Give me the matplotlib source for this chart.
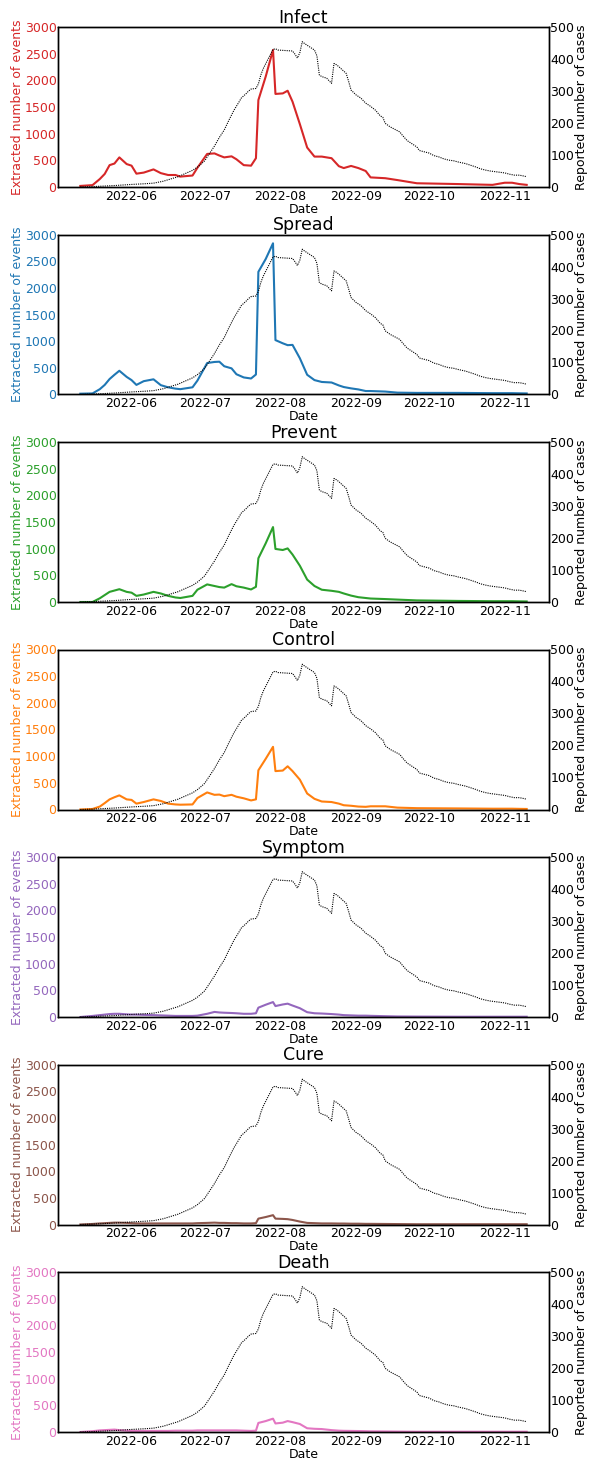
import matplotlib
matplotlib.use("Agg")
import matplotlib.pyplot as plt
import matplotlib.dates as mdates
import pandas as pd

# ---------------- data ----------------
case_dates = ["2022-05-11", "2022-05-15", "2022-05-21", "2022-05-26", "2022-06-01", "2022-06-06",
              "2022-06-10", "2022-06-14", "2022-06-17", "2022-06-20", "2022-06-23", "2022-06-26",
              "2022-06-28", "2022-06-30", "2022-07-01", "2022-07-03", "2022-07-05", "2022-07-07",
              "2022-07-09", "2022-07-11", "2022-07-13", "2022-07-15", "2022-07-16", "2022-07-18",
              "2022-07-19", "2022-07-20", "2022-07-22", "2022-07-23", "2022-07-24", "2022-07-25",
              "2022-07-27", "2022-07-28", "2022-07-29", "2022-07-30", "2022-07-31", "2022-08-02",
              "2022-08-04", "2022-08-06", "2022-08-07", "2022-08-08", "2022-08-09", "2022-08-10",
              "2022-08-11", "2022-08-13", "2022-08-15", "2022-08-16", "2022-08-17", "2022-08-18",
              "2022-08-20", "2022-08-21", "2022-08-22", "2022-08-23", "2022-08-24", "2022-08-25",
              "2022-08-27", "2022-08-28", "2022-08-29", "2022-08-30", "2022-09-01", "2022-09-03",
              "2022-09-05", "2022-09-07", "2022-09-09", "2022-09-11", "2022-09-12", "2022-09-13",
              "2022-09-15", "2022-09-17", "2022-09-19", "2022-09-20", "2022-09-22", "2022-09-24",
              "2022-09-26", "2022-09-27", "2022-09-29", "2022-10-01", "2022-10-03", "2022-10-05",
              "2022-10-07", "2022-10-09", "2022-10-11", "2022-10-13", "2022-10-16", "2022-10-18",
              "2022-10-20", "2022-10-22", "2022-10-24", "2022-10-26", "2022-10-28", "2022-10-30",
              "2022-11-01", "2022-11-03", "2022-11-05", "2022-11-07", "2022-11-09", "2022-11-10"]
reported_cases = [0, 1, 3, 5, 8, 10,
                  12, 18, 25, 32, 42, 52,
                  62, 75, 82, 105, 128, 155,
                  178, 210, 240, 265, 278, 292,
                  300, 306, 308, 322, 350, 370,
                  400, 415, 430, 432, 428, 427,
                  426, 425, 415, 403, 420, 454,
                  448, 438, 428, 410, 350, 345,
                  340, 332, 324, 386, 382, 376,
                  362, 355, 330, 303, 288, 278,
                  262, 252, 240, 222, 218, 199,
                  188, 180, 172, 162, 145, 135,
                  125, 114, 110, 106, 98, 94,
                  88, 84, 82, 78, 73, 68,
                  63, 57, 53, 50, 48, 46,
                  44, 40, 37, 37, 34, 32]

event_dates = ["2022-05-11", "2022-05-16", "2022-05-19", "2022-05-21", "2022-05-23", "2022-05-25",
               "2022-05-27", "2022-05-30", "2022-06-01", "2022-06-03", "2022-06-06", "2022-06-10",
               "2022-06-13", "2022-06-16", "2022-06-19", "2022-06-21", "2022-06-26", "2022-06-28",
               "2022-07-02", "2022-07-05", "2022-07-07", "2022-07-09", "2022-07-12", "2022-07-14",
               "2022-07-17", "2022-07-20", "2022-07-22", "2022-07-23", "2022-07-26", "2022-07-29",
               "2022-07-30", "2022-08-02", "2022-08-04", "2022-08-06", "2022-08-09", "2022-08-12",
               "2022-08-15", "2022-08-18", "2022-08-22", "2022-08-25", "2022-08-27", "2022-08-30",
               "2022-09-02", "2022-09-05", "2022-09-07", "2022-09-13", "2022-09-18", "2022-09-26",
               "2022-10-13", "2022-10-27", "2022-11-01", "2022-11-04", "2022-11-07", "2022-11-10"]

infect = [20, 35, 150, 245, 410, 440, 555, 430, 400, 250, 270, 330, 260, 225, 225, 195, 215, 360,
          620, 630, 590, 555, 575, 520, 410, 400, 540, 1630, 2070, 2570, 1745, 1755, 1805, 1600,
          1180, 740, 570, 570, 540, 390, 355, 395, 355, 300, 180, 165, 130, 70, 55, 40, 80, 80, 55, 40]
spread = [15, 20, 100, 180, 290, 370, 445, 330, 270, 180, 250, 285, 175, 135, 110, 100, 135, 260,
          590, 610, 615, 530, 490, 380, 320, 300, 375, 2300, 2540, 2835, 1020, 960, 925, 930,
          680, 370, 270, 235, 225, 170, 140, 115, 95, 65, 65, 55, 35, 30, 30, 25, 25, 25, 22, 20]
prevent = [0, 0, 70, 130, 190, 215, 240, 190, 175, 115, 140, 190, 160, 115, 85, 75, 115, 230,
           330, 300, 280, 270, 335, 295, 270, 235, 285, 820, 1100, 1405, 995, 975, 1005, 890,
           680, 420, 300, 230, 210, 190, 160, 120, 90, 75, 65, 55, 45, 30, 20, 15, 15, 15, 12, 10]
control = [0, 10, 55, 120, 190, 230, 265, 190, 180, 110, 140, 190, 160, 110, 95, 90, 95, 215,
           320, 275, 280, 250, 275, 240, 210, 170, 190, 735, 950, 1175, 720, 730, 810, 720,
           560, 300, 200, 150, 140, 110, 80, 70, 55, 50, 60, 60, 35, 25, 20, 15, 15, 15, 12, 10]
symptom = [0, 20, 35, 45, 55, 60, 60, 50, 45, 45, 40, 35, 30, 25, 20, 20, 20, 25,
           60, 95, 85, 80, 75, 70, 60, 60, 70, 175, 230, 280, 205, 235, 250, 215,
           165, 90, 70, 65, 55, 45, 35, 30, 25, 25, 22, 15, 10, 8, 5, 5, 5, 5, 5, 5]
cure = [0, 10, 20, 25, 30, 35, 35, 30, 25, 20, 20, 20, 20, 20, 20, 20, 20, 25,
        30, 35, 30, 30, 25, 25, 20, 20, 25, 110, 140, 175, 110, 105, 100, 85,
        55, 30, 25, 20, 20, 18, 18, 15, 15, 12, 12, 10, 8, 5, 5, 5, 5, 5, 5, 5]
death = [0, 15, 30, 35, 40, 45, 35, 25, 20, 20, 20, 20, 20, 20, 25, 25, 25, 30,
         30, 30, 30, 30, 30, 30, 25, 20, 25, 170, 205, 250, 160, 175, 205, 185,
         150, 70, 60, 55, 35, 25, 22, 20, 18, 15, 12, 10, 8, 5, 5, 5, 5, 5, 5, 5]

titles = ["Infect", "Spread", "Prevent", "Control", "Symptom", "Cure", "Death"]
series = [infect, spread, prevent, control, symptom, cure, death]
colors = ["tab:red", "tab:blue", "tab:green", "tab:orange", "tab:purple", "tab:brown", "tab:pink"]
left_ticks = [0, 500, 1000, 1500, 2000, 2500, 3000]
right_ticks = [0, 100, 200, 300, 400, 500]

# ---------------- plot ----------------
cd = pd.to_datetime(case_dates)
ed = pd.to_datetime(event_dates)

W, H = 589, 1461
fig = plt.figure(figsize=(W / 100, H / 100), dpi=100)

ax_left_px, ax_width_px, ax_height_px = 58, 491, 160
first_top, step = 27, 207.5

for i, (title, vals, col) in enumerate(zip(titles, series, colors)):
    top = first_top + i * step
    ax = fig.add_axes([ax_left_px / W, 1 - (top + ax_height_px) / H,
                       ax_width_px / W, ax_height_px / H])
    ax.plot(ed, vals, color=col, linewidth=1.5)
    ax.set_ylim(0, 3000)
    ax.set_yticks(left_ticks)
    ax.set_ylabel("Extracted number of events", color=col, fontsize=9, labelpad=0.5)
    ax.tick_params(axis="y", colors=col, labelsize=9, length=0, pad=1)
    ax.tick_params(axis="x", labelsize=9, length=0, pad=2)
    ax.set_xlabel("Date", fontsize=9, labelpad=0)
    ax.set_title(title, fontsize=12.5, pad=3)
    ax.xaxis.set_major_locator(mdates.MonthLocator())
    ax.xaxis.set_major_formatter(mdates.DateFormatter("%Y-%m"))

    ax2 = ax.twinx()
    ax2.plot(cd, reported_cases, color="black", linestyle=(0, (1, 1)), linewidth=0.8)
    ax2.set_ylim(0, 500)
    ax2.set_yticks(right_ticks)
    ax2.set_ylabel("Reported number of cases", fontsize=9, labelpad=0.5)
    ax2.tick_params(axis="y", labelsize=9, length=0, pad=1)
    for a in (ax, ax2):
        for s in a.spines.values():
            s.set_linewidth(1.0)

fig.savefig("out.png", dpi=100)
